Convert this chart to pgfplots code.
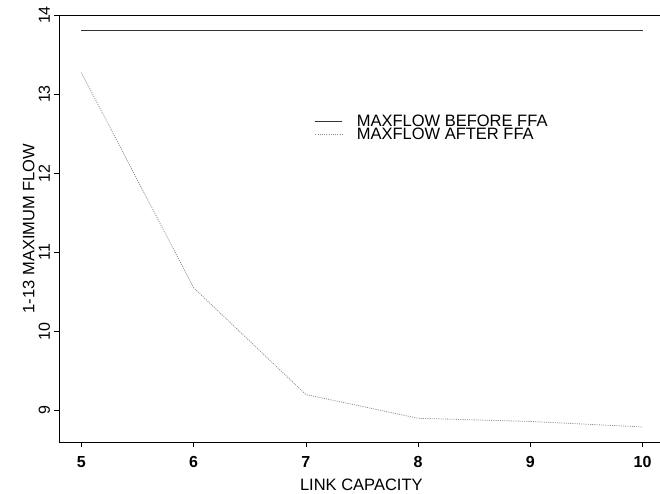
\documentclass[border=0pt]{standalone}
\usepackage{fontspec}
\setmainfont{Liberation Sans}
\usepackage{pgfplots}
\pgfplotsset{compat=1.18}
\begin{document}
\begin{tikzpicture}
\begin{axis}[
  scale only axis, width=601pt, height=427pt,
  at={(0,0)}, anchor=south west,
  xmin=4.8, xmax=10.155, ymin=8.6, ymax=14,
  axis x line*=bottom, axis y line*=left,
  axis line style={line width=0.9pt, -},
  xtick={5,...,10}, ytick={9,...,14},
  tick align=outside, major tick length=5pt,
  tick style={line width=0.8pt, black},
  /pgf/number format/assume math mode=true,
  font=\fontsize{16.5}{19}\selectfont,
  xticklabel style={inner sep=0pt, anchor=base, yshift=-20pt, font=\fontsize{16}{19}\selectfont\bfseries},
  yticklabel style={inner sep=0pt, xshift=-4pt, rotate=90, anchor=base, font=\fontsize{16}{19}\selectfont},
  xlabel={LINK CAPACITY},
  ylabel={1-13 MAXIMUM FLOW},
  xlabel style={at={(axis description cs:0.503,0)}, anchor=base, inner sep=0pt, yshift=-48.7pt},
  ylabel style={at={(axis description cs:-0.0409,0.5)}, anchor=base, inner sep=0pt},
  legend style={at={(axis cs:7.081,12.738)}, anchor=north west, draw=none, fill=none,
    inner sep=0pt, outer sep=0pt, row sep=0pt,
    nodes={inner sep=0pt, font=\fontsize{16.5}{19}\selectfont},
    /tikz/every odd column/.append style={column sep=14pt}},
  legend cell align=left,
  legend image code/.code={\draw[#1] (0pt,0pt) -- (27pt,0pt);},
]
\draw[line width=0.9pt] (rel axis cs:0,1) -- (rel axis cs:1,1);
\addplot[line width=0.8pt, black!80] coordinates {
  (5,13.8) (6,13.8) (7,13.8) (8,13.8) (9,13.8) (10,13.8)
};
\addlegendentry{MAXFLOW BEFORE FFA}
\addplot[line width=0.8pt, black!45, dash pattern=on 1pt off 1.2pt] coordinates {
  (5,13.27) (6,10.55) (7,9.20) (8,8.90) (9,8.86) (10,8.79)
};
\addlegendentry{MAXFLOW AFTER FFA}
\end{axis}
\pgfresetboundingbox
\path[use as bounding box] (-59pt,-51pt) rectangle (601pt,442pt);
\end{tikzpicture}
\end{document}
